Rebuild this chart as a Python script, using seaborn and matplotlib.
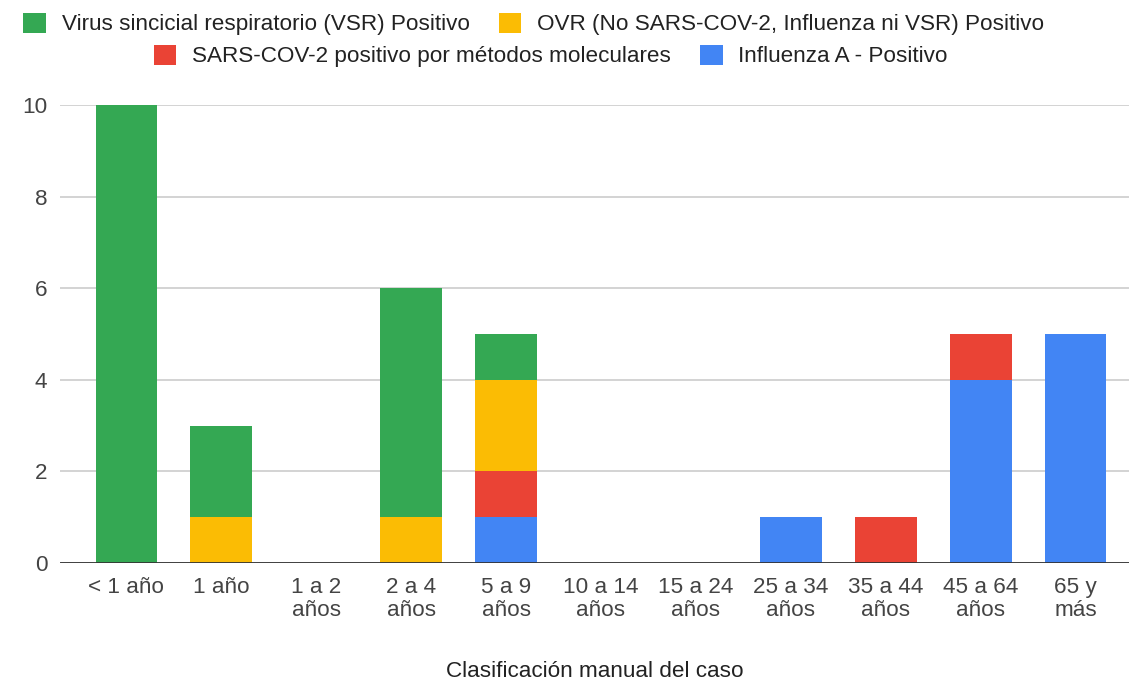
import matplotlib
matplotlib.use("Agg")
import matplotlib.pyplot as plt
from matplotlib.patches import Patch
import numpy as np
import seaborn as sns

GRUPOS = ['< 1 año', '1 año', '1 a 2\naños', '2 a 4\naños', '5 a 9\naños',
          '10 a 14\naños', '15 a 24\naños', '25 a 34\naños', '35 a 44\naños',
          '45 a 64\naños', '65 y\nmás']

# stacked bottom -> top
INFLUENZA_A = [0, 0, 0, 0, 1, 0, 0, 1, 0, 4, 5]
SARS_COV_2 = [0, 0, 0, 0, 1, 0, 0, 0, 1, 1, 0]
OVR = [0, 1, 0, 1, 2, 0, 0, 0, 0, 0, 0]
VSR = [10, 2, 0, 5, 1, 0, 0, 0, 0, 0, 0]

SERIES = [
    ('Influenza A - Positivo', INFLUENZA_A, '#4285F4'),
    ('SARS-COV-2 positivo por métodos moleculares', SARS_COV_2, '#EA4335'),
    ('OVR (No SARS-COV-2, Influenza ni VSR) Positivo', OVR, '#FBBC04'),
    ('Virus sincicial respiratorio (VSR) Positivo', VSR, '#34A853'),
]

FS = 16.2

sns.set_theme(style="white")
plt.rcParams['font.family'] = ['Liberation Sans', 'DejaVu Sans']

fig = plt.figure(figsize=(11.31, 6.84), dpi=100)
ax = fig.add_axes([0.053, 0.177, 0.945, 0.6696])

bottom = np.zeros(len(GRUPOS))
for name, vals, color in SERIES:
    sns.barplot(x=GRUPOS, y=vals, bottom=bottom, color=color, width=0.65,
                linewidth=0, saturation=1, ax=ax, zorder=3)
    bottom += np.array(vals)

ax.set_ylim(0, 10)
ax.set_xlim(-0.70, 10.56)
ax.set_yticks([0, 2, 4, 6, 8, 10])
ax.yaxis.grid(True, color='#cccccc', linewidth=1.2, zorder=0)
ax.axhline(0, color='#333333', linewidth=2, zorder=4)
for s in ax.spines.values():
    s.set_visible(False)
ax.tick_params(axis='both', length=0, labelsize=FS, labelcolor='#444444')
ax.tick_params(axis='x', pad=10)
ax.tick_params(axis='y', pad=9)
for t in ax.get_xticklabels():
    t.set_linespacing(1.15)
ax.set_ylabel('')
ax.set_xlabel('Clasificación manual del caso', fontsize=FS, color='#222222',
              labelpad=29)

colors = {name: color for name, _, color in SERIES}
row1 = ['Virus sincicial respiratorio (VSR) Positivo',
        'OVR (No SARS-COV-2, Influenza ni VSR) Positivo']
row2 = ['SARS-COV-2 positivo por métodos moleculares',
        'Influenza A - Positivo']
for labels, xpos, ypos in [(row1, 0.472, 0.965), (row2, 0.487, 0.918)]:
    handles = [Patch(facecolor=colors[l], edgecolor='none') for l in labels]
    fig.legend(handles, labels, loc='center', bbox_to_anchor=(xpos, ypos),
               ncol=2, frameon=False, fontsize=FS, handlelength=1.0,
               handleheight=1.0, handletextpad=0.7, columnspacing=1.3,
               labelcolor='#222222', borderpad=0)

fig.savefig('out.png', dpi=100)
